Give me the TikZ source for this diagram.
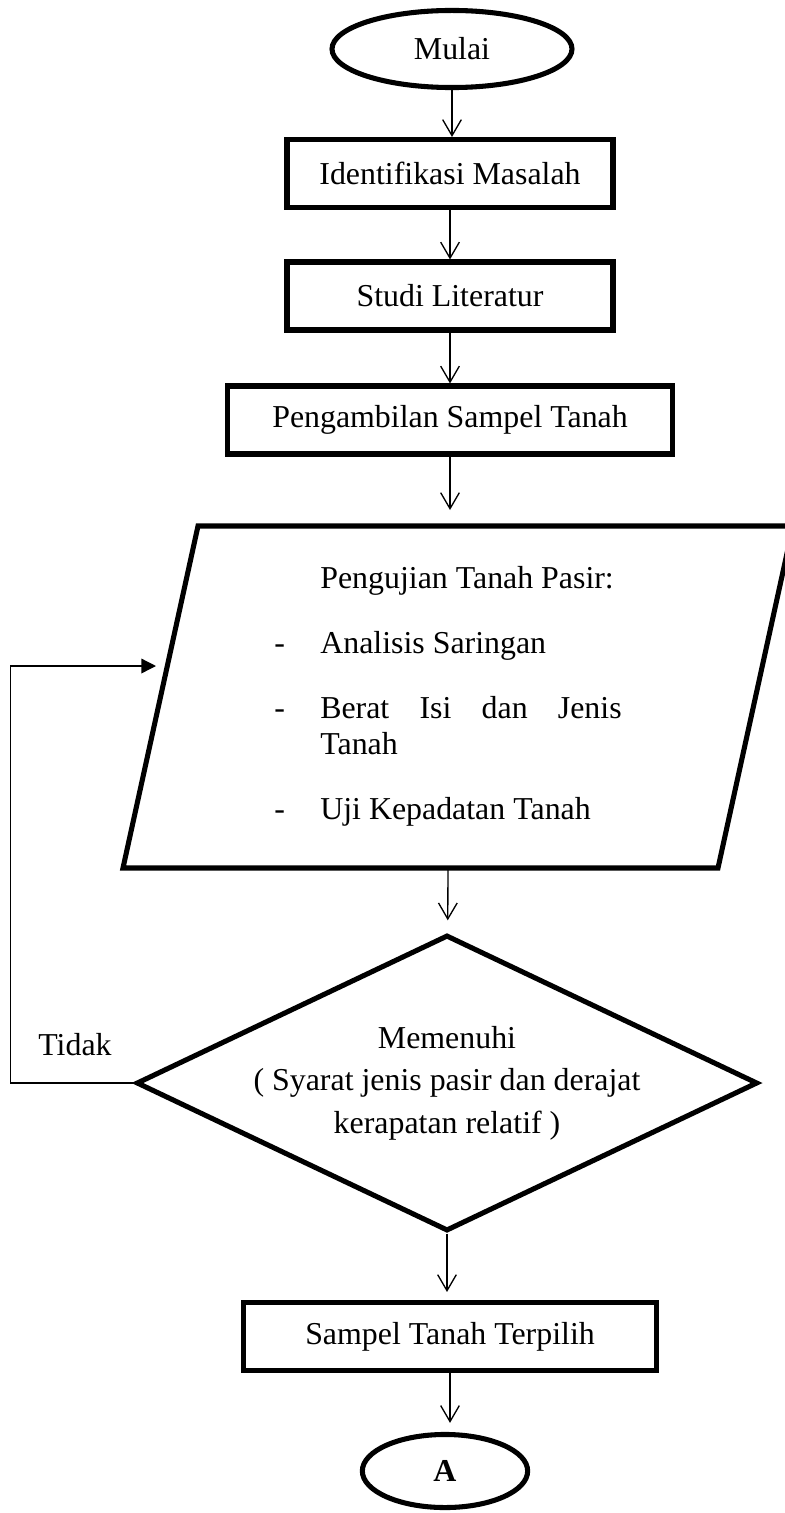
\documentclass[tikz,border=0pt]{standalone}
\usepackage{fontspec}
\setmainfont{Liberation Serif}
\usetikzlibrary{arrows.meta,shapes.geometric,positioning,calc}
\tikzset{
  fcterm/.style={ellipse,draw,line width=1.9bp,inner sep=0pt},
  fcproc/.style={rectangle,draw,line width=1.9bp,minimum height=25.5bp,inner sep=0pt},
  fcdecide/.style={diamond,draw,line width=1.9bp,aspect=2.1,inner xsep=0pt,inner ysep=-4bp,
    minimum width=233bp,minimum height=111bp,align=center,font=\fontsize{12}{16}\selectfont},
  fcflow/.style={line width=0.5bp,-{Straight Barb[length=6bp,width=7bp]}},
  fcback/.style={line width=0.5bp,-{Triangle[length=5.5bp,width=5.5bp]}}
}

\begin{document}
\begin{tikzpicture}[x=0.375bp,y=-0.375bp,font=\fontsize{12}{13.5}\selectfont]
        \useasboundingbox (0,0) rectangle (784,1513);
        \node[fcterm,minimum width=90bp,minimum height=28.9bp] (mulai) at (452,49) {Mulai};
        \node[fcproc,minimum width=122.25bp] (identifikasi) at (450,173.5) {Identifikasi Masalah};
        \node[fcproc,minimum width=122.25bp] (studi) at (450,296) {Studi Literatur};
        \node[fcproc,minimum width=167bp] (pengambilan) at (450,420) {Pengambilan Sampel Tanah};
        \node[inner sep=0pt,outer sep=0pt,minimum height=128.25bp] (uji) at (448,697) {%
          \begin{tabular}{@{}p{17.25bp}@{}p{113bp}@{}}
            & Pengujian Tanah Pasir:\\[11bp]
            - & Analisis Saringan\\[11bp]
            - & \makebox[113bp][s]{Berat Isi dan Jenis}\par Tanah\\[11bp]
            - & Uji Kepadatan Tanah
          \end{tabular}};
        \draw[line width=1.9bp] ($(uji.north)+(-250,0)$) -- ($(uji.north)+(345,0)$)
          -- ($(uji.south)+(270,0)$) -- ($(uji.south)+(-325,0)$) -- cycle;
        \node[fcdecide] (cek) at (447,1083) {Memenuhi\\( Syarat jenis pasir dan derajat\\kerapatan relatif )};
        \node[fcproc,minimum width=155bp] (terpilih) at (450,1336.5) {Sampel Tanah Terpilih};
        \node[fcterm,minimum width=62bp,minimum height=27.4bp,font=\fontsize{12}{13.5}\selectfont\bfseries] (lanjut) at (445,1471) {A};
        \coordinate (masuk) at (156,666);
        \node (tidak) at (75,1045) {Tidak};

        \draw[fcflow] (mulai) -- (mulai |- identifikasi.north);
        \draw[fcflow] (identifikasi) -- (studi);
        \draw[fcflow] (studi) -- (pengambilan);
        \draw[fcflow,shorten >=6bp] (pengambilan) -- (pengambilan |- uji.north);
        \draw[fcflow,shorten >=4.7bp] (uji.south) -- (cek);
        \draw[fcflow,shorten >=3bp] (cek) -- (cek |- terpilih.north);
        \draw[fcflow,shorten >=3.4bp] (terpilih) -- (terpilih |- lanjut.north);
        \draw[fcback] (cek.west) -- ++(-123,0) |- (masuk);
      \end{tikzpicture}
\end{document}
